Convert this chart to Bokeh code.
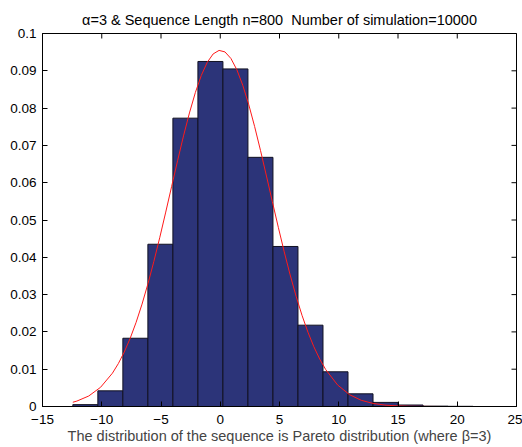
from bokeh.plotting import figure
from bokeh.models import FixedTicker, Range1d
from bokeh.embed import file_html
from bokeh.resources import INLINE

# Histogram of the simulated statistic (density-normalised, 16 bins)
bin_left = -12.44
bin_width = 2.111
density = [0.0005, 0.0042, 0.0183, 0.0435, 0.0773, 0.0925, 0.0905, 0.0668,
           0.0429, 0.0218, 0.0093, 0.0034, 0.0011, 0.0004, 0.0001, 0.00005]

# Fitted normal density, sampled along the data range
curve_x = [-12.44, -12.1, -11.1, -10.1, -9.1, -8.6, -8.1, -7.6, -7.1, -6.6, -6.1,
           -5.6, -5.1, -4.6, -4.1, -3.6, -3.1, -2.6, -2.1, -1.6, -1.1, -0.6,
           -0.1, 0.4, 0.9, 1.4, 1.9, 2.4, 2.9, 3.4, 3.9, 4.4, 4.9, 5.4, 5.9,
           6.4, 6.9, 7.4, 7.9, 8.4, 8.9, 9.9, 10.9, 11.9, 12.9, 13.9, 14.9,
           15.9, 16.9, 17.9, 18.9, 19.9, 20.9, 21.34]
curve_y = [0.00114, 0.00145, 0.00281, 0.00515, 0.00893, 0.01150, 0.01461,
           0.01829, 0.02257, 0.02745, 0.03292, 0.03892, 0.04536, 0.05212,
           0.05903, 0.06590, 0.07254, 0.07870, 0.08418, 0.08875, 0.09225,
           0.09452, 0.09547, 0.09506, 0.09331, 0.09029, 0.08613, 0.08099,
           0.07507, 0.06860, 0.06179, 0.05488, 0.04804, 0.04145, 0.03526,
           0.02957, 0.02445, 0.01992, 0.01601, 0.01267, 0.00990, 0.00578,
           0.00319, 0.00166, 0.00082, 0.00038, 0.00017, 0.00007, 0.00003,
           0.00001, 0.0, 0.0, 0.0, 0.0]

x_ticks = [-15, -10, -5, 0, 5, 10, 15, 20, 25]
y_ticks = [0, 0.01, 0.02, 0.03, 0.04, 0.05, 0.06, 0.07, 0.08, 0.09, 0.1]
y_tick_labels = ["0", "0.01", "0.02", "0.03", "0.04", "0.05", "0.06",
                 "0.07", "0.08", "0.09", "0.1"]

title_text = "\u03b1=3 & Sequence Length n=800 \u00a0Number of simulation=10000"
xlabel_text = "The distribution of the sequence is Pareto distribution (where \u03b2=3)"

FONT = "Liberation Sans"
X_MIN, X_MAX = -15, 25
Y_MIN, Y_MAX = 0, 0.1

lefts = [bin_left + i * bin_width for i in range(len(density))]
rights = [l + bin_width for l in lefts]

p = figure(width=522, height=447, output_backend="svg", toolbar_location=None,
           x_range=Range1d(X_MIN, X_MAX), y_range=Range1d(Y_MIN, Y_MAX),
           min_border_left=42, min_border_right=6, min_border_top=33,
           min_border_bottom=41, background_fill_color="white",
           border_fill_color="white", outline_line_color="black",
           outline_line_width=1, title=title_text)

p.title.align = "center"
p.title.text_font = FONT
p.title.text_font_size = "14.5px"
p.title.text_font_style = "normal"
p.title.text_color = "black"
p.title.standoff = 12

p.grid.visible = False

p.quad(left=lefts, right=rights, bottom=0, top=density,
       fill_color="#2C3479", line_color="#111122", line_width=1)

p.line(curve_x, curve_y, line_color="#ff1a1a", line_width=1)

# Inward ticks on the top and right edges of the box (half of each dash is
# clipped away by the frame)
p.scatter(x=x_ticks, y=[Y_MAX] * len(x_ticks), marker="dash", size=10,
          angle=1.5707963, line_color="black", line_width=1)
p.scatter(x=[X_MAX] * len(y_ticks), y=y_ticks, marker="dash", size=10,
          line_color="black", line_width=1)

xlabels = {t: (str(t).replace("-", "\u2212")) for t in x_ticks}
ylabels = {t: lab for t, lab in zip(y_ticks, y_tick_labels)}


def style_axis(ax):
    ax.major_tick_in = 5
    ax.major_tick_out = 0
    ax.minor_tick_line_color = None
    ax.axis_line_color = "black"
    ax.major_tick_line_color = "black"
    ax.major_label_text_font = FONT
    ax.major_label_text_font_size = "13.5px"
    ax.major_label_text_color = "black"


xa = p.xaxis[0]
xa.ticker = FixedTicker(ticks=x_ticks)
xa.major_label_overrides = xlabels
style_axis(xa)
xa.major_label_standoff = 8
xa.axis_label = xlabel_text
xa.axis_label_text_font = FONT
xa.axis_label_text_font_size = "14.5px"
xa.axis_label_text_font_style = "normal"
xa.axis_label_standoff = 1

ya = p.yaxis[0]
ya.ticker = FixedTicker(ticks=y_ticks)
ya.major_label_overrides = ylabels
style_axis(ya)
ya.major_label_standoff = 6

open("out.html", "w").write(file_html(p, INLINE))
